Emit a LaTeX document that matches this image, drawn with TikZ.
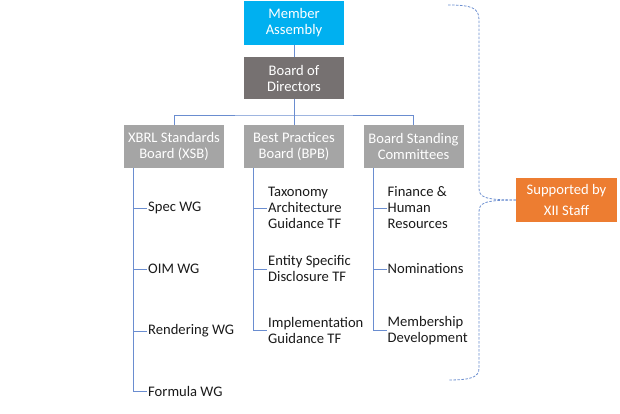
\documentclass[tikz,border=0pt]{standalone}
\usepackage{fontspec}
\setmainfont{Carlito}
\definecolor{macol}{HTML}{00B0F0}
\definecolor{bodcol}{HTML}{767171}
\definecolor{subcol}{HTML}{A5A5A5}
\definecolor{staffcol}{HTML}{ED7D31}
\definecolor{linecol}{HTML}{6A8DD0}
\definecolor{txtcol}{HTML}{1A1A1A}
\begin{document}
\begin{tikzpicture}[x=1pt,y=-1pt,
  box/.style={minimum width=100pt,minimum height=43pt,inner sep=0pt,align=center,
    text=white,font=\fontsize{14.6}{16}\selectfont},
  item/.style={anchor=west,inner sep=1pt,align=left,text=txtcol,
    font=\fontsize{14.6}{16}\selectfont},
  conn/.style={draw=linecol,line width=0.8pt},
  bracepath/.style={draw=linecol,line width=0.8pt,dash pattern=on 2.5pt off 1.5pt}]
\useasboundingbox (0,0) rectangle (620,414);
\node[box,fill=macol,minimum height=44pt] (ma) at (294,23) {Member\\Assembly};
\node[box,fill=bodcol,minimum height=42pt] (bod) at (294,78) {Board of\\Directors};
\node[box,fill=subcol] (xsb) at (174,146.5) {XBRL Standards\\Board (XSB)};
\node[box,fill=subcol] (bpb) at (294,146.5) {Best Practices\\Board (BPB)};
\node[box,fill=subcol] (bsc) at (413.5,146.5) {Board Standing\\Committees};
\node[box,fill=staffcol,minimum width=101pt,minimum height=44pt,
  font=\fontsize{14.6}{21}\selectfont] (staff) at (566.5,200) {Supported by\\XII Staff};
\coordinate (bus) at (294,115);
\draw[conn] (ma) -- (bod);
\draw[conn] (bod.south) -- (bus);
\draw[conn] (xsb.north) |- (bus) -| (bsc.north);
\draw[conn] (bus) -- (bpb.north);
% XSB items
\node[item] (spec) at (147,208) {Spec WG};
\node[item] (oim) at (147,269) {OIM WG};
\node[item] (rend) at (147,331) {Rendering WG};
\node[item] (form) at (147,391) {Formula WG};
\foreach \n in {spec,oim,rend,form}
  \draw[conn] ([xshift=10pt]xsb.south west) |- (\n.west);
% BPB items
\node[item] (tag) at (267,208) {Taxonomy\\Architecture\\Guidance TF};
\node[item] (esd) at (267,269) {Entity Specific\\Disclosure TF};
\node[item] (igt) at (267,330.5) {Implementation\\Guidance TF};
\foreach \n in {tag,esd,igt}
  \draw[conn] ([xshift=10pt]bpb.south west) |- (\n.west);
% BSC items
\node[item] (fhr) at (386.5,208) {Finance \&\\Human\\Resources};
\node[item] (nom) at (386.5,269) {Nominations};
\node[item] (md) at (386.5,330.5) {Membership\\Development};
\foreach \n in {fhr,nom,md}
  \draw[conn] ([xshift=10pt]bsc.south west) |- (\n.west);
% brace
\draw[bracepath] (448,5) .. controls (472,5) and (479,8) .. (479,20) -- (479,188)
  .. controls (479,197) and (484,200) .. (staff.west);
\draw[bracepath] (staff.west) .. controls (484,200) and (479,203) .. (479,212)
  -- (479,368) .. controls (479,377) and (472,380) .. (448,380);
\end{tikzpicture}
\end{document}
